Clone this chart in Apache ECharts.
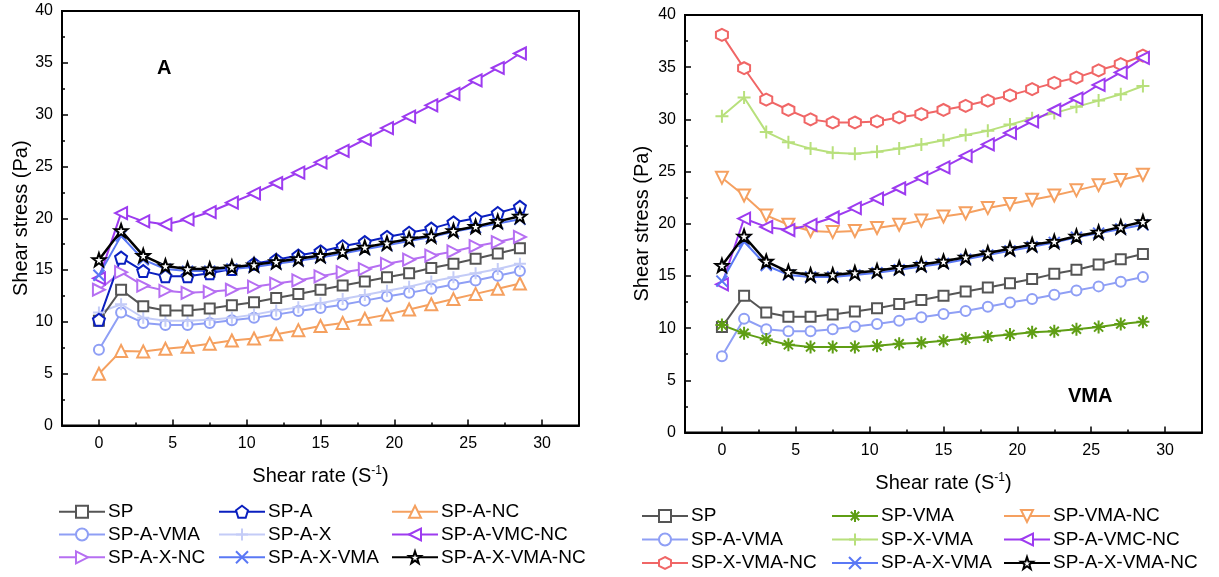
<!DOCTYPE html>
<html>
<head>
<meta charset="utf-8">
<script src="https://cdn.jsdelivr.net/npm/echarts@6/dist/echarts.min.js"></script>
<style>
html,body{margin:0;padding:0;background:#fff;}
#chart{width:1219px;height:577px;}
</style>
</head>
<body>
<div id="chart"></div>
<script>
// ---- Data ----
const shearRate = [0, 1.5, 3, 4.5, 6, 7.5, 9, 10.5, 12, 13.5, 15, 16.5, 18, 19.5, 21, 22.5, 24, 25.5, 27, 28.5];
const xTicks = [0, 5, 10, 15, 20, 25, 30];
const xMinorTicks = [2.5, 7.5, 12.5, 17.5, 22.5, 27.5];

const SP          = [10.1, 13.1, 11.5, 11.1, 11.1, 11.3, 11.6, 11.9, 12.3, 12.7, 13.1, 13.5, 13.9, 14.3, 14.7, 15.2, 15.6, 16.1, 16.6, 17.1];
const SP_A        = [10.2, 16.2, 14.9, 14.4, 14.4, 14.7, 15.1, 15.6, 16.0, 16.4, 16.8, 17.3, 17.7, 18.2, 18.6, 19.0, 19.6, 20.0, 20.5, 21.1];
const SP_A_NC     = [5.0, 7.2, 7.15, 7.4, 7.6, 7.9, 8.2, 8.4, 8.8, 9.2, 9.6, 9.9, 10.3, 10.7, 11.2, 11.7, 12.2, 12.7, 13.2, 13.7];
const SP_A_VMA    = [7.3, 10.9, 9.9, 9.7, 9.7, 9.9, 10.15, 10.4, 10.7, 11.05, 11.35, 11.65, 12.05, 12.45, 12.8, 13.2, 13.6, 14.0, 14.45, 14.9];
const SP_A_X      = [10.9, 11.7, 10.4, 10.1, 10.1, 10.2, 10.4, 10.7, 11.1, 11.4, 11.8, 12.2, 12.6, 13.0, 13.4, 13.9, 14.3, 14.7, 15.1, 15.6];
const SP_A_VMC_NC = [14.2, 20.5, 19.7, 19.4, 19.9, 20.6, 21.5, 22.4, 23.4, 24.4, 25.4, 26.5, 27.6, 28.7, 29.8, 30.9, 32.0, 33.3, 34.5, 35.9];
const SP_A_X_NC   = [13.1, 14.8, 13.5, 13.0, 12.8, 12.9, 13.1, 13.4, 13.7, 14.0, 14.4, 14.8, 15.1, 15.6, 16.0, 16.4, 16.8, 17.3, 17.7, 18.2];
const SP_A_X_VMA  = [14.5, 18.3, 16.0, 15.1, 14.9, 14.9, 15.1, 15.3, 15.6, 15.9, 16.2, 16.6, 17.0, 17.4, 17.8, 18.2, 18.7, 19.1, 19.5, 19.9];
const SP_A_X_VMA_NC = [16.0, 18.8, 16.4, 15.4, 15.1, 15.1, 15.3, 15.5, 15.8, 16.1, 16.4, 16.8, 17.2, 17.6, 18.0, 18.3, 18.8, 19.2, 19.7, 20.2];
const SP_VMA      = [10.3, 9.5, 8.9, 8.4, 8.2, 8.2, 8.2, 8.3, 8.5, 8.6, 8.8, 9.0, 9.2, 9.4, 9.6, 9.7, 9.9, 10.1, 10.4, 10.6];
const SP_X_VMA    = [30.3, 32.1, 28.8, 27.8, 27.2, 26.8, 26.7, 26.9, 27.2, 27.6, 28.0, 28.5, 28.9, 29.5, 30.1, 30.6, 31.2, 31.8, 32.4, 33.2];
const SP_X_VMA_NC = [38.1, 34.9, 31.9, 30.9, 30.0, 29.7, 29.7, 29.8, 30.2, 30.5, 30.9, 31.3, 31.8, 32.3, 32.9, 33.5, 34.0, 34.7, 35.3, 36.1];
const SP_VMA_NC   = [24.4, 22.7, 20.8, 19.9, 19.3, 19.2, 19.3, 19.6, 19.9, 20.3, 20.7, 21.0, 21.5, 21.9, 22.3, 22.7, 23.2, 23.7, 24.2, 24.7];

// legend layout: rows of three entries
const leftLegendRows = [
  ['SP', 'SP-A', 'SP-A-NC'],
  ['SP-A-VMA', 'SP-A-X', 'SP-A-VMC-NC'],
  ['SP-A-X-NC', 'SP-A-X-VMA', 'SP-A-X-VMA-NC']
];
const rightLegendRows = [
  ['SP', 'SP-VMA', 'SP-VMA-NC'],
  ['SP-A-VMA', 'SP-X-VMA', 'SP-A-VMC-NC'],
  ['SP-X-VMA-NC', 'SP-A-X-VMA', 'SP-A-X-VMA-NC']
];

// ---- Symbols ----
const SYM = {
  square: 'rect',
  circle: 'circle',
  pentagon: 'path://M50,0L97.6,34.5L79.4,90.5L20.6,90.5L2.4,34.5Z',
  hexagon: 'path://M50,0L93.3,25L93.3,75L50,100L6.7,75L6.7,25Z',
  triUp: 'path://M5,0L10,9L0,9Z',
  triDown: 'path://M0,0L10,0L5,9Z',
  triLeft: 'path://M0,5L9,0L9,10Z',
  triRight: 'path://M0,0L9,5L0,10Z',
  plus: 'path://M5,0L5,10M0,5L10,5',
  cross: 'path://M0,0L10,10M0,10L10,0',
  asterisk: 'path://M5,0L5,10M0,5L10,5M1.5,1.5L8.5,8.5M1.5,8.5L8.5,1.5',
  star: 'path://M50,0L61.76,33.82L97.55,34.55L69.02,56.18L79.39,90.45L50,70L20.61,90.45L30.98,56.18L2.45,34.55L38.24,33.82Z'
};

const styles = {
  'SP':            {c: '#555555', s: 'square', size: 10, hollow: true},
  'SP-A':          {c: '#0a1fbf', s: 'pentagon', size: 12, hollow: true},
  'SP-A-NC':       {c: '#f5a05f', s: 'triUp', size: 12, hollow: true},
  'SP-A-VMA':      {c: '#8f9ff5', s: 'circle', size: 10, hollow: true},
  'SP-A-X':        {c: '#c4ccf7', s: 'plus', size: 12, hollow: false},
  'SP-A-VMC-NC':   {c: '#9d3bf0', s: 'triLeft', size: 12, hollow: true},
  'SP-A-X-NC':     {c: '#b66ff2', s: 'triRight', size: 12, hollow: true},
  'SP-A-X-VMA':    {c: '#5a78f5', s: 'cross', size: 11, hollow: false},
  'SP-A-X-VMA-NC': {c: '#000000', s: 'star', size: 13, hollow: true},
  'SP-VMA':        {c: '#5f9e14', s: 'asterisk', size: 13, hollow: false},
  'SP-X-VMA':      {c: '#b8e07c', s: 'plus', size: 13, hollow: false},
  'SP-X-VMA-NC':   {c: '#f06666', s: 'hexagon', size: 12, hollow: true},
  'SP-VMA-NC':     {c: '#f5a060', s: 'triDown', size: 12, hollow: true}
};

function mkSeries(name, values, axisIdx) {
  const st = styles[name];
  return {
    name: name,
    type: 'line',
    xAxisIndex: axisIdx === 0 ? 0 : 2,
    yAxisIndex: axisIdx,
    data: shearRate.map((x, i) => [x, values[i]]),
    symbol: SYM[st.s],
    symbolSize: st.size,
    showAllSymbol: true,
    animation: false,
    lineStyle: {color: st.c, width: name === 'SP-A-X-VMA-NC' ? 2.5 : 2},
    itemStyle: {
      color: st.hollow ? '#ffffff' : st.c,
      borderColor: st.c,
      borderWidth: 2
    },
    emphasis: {disabled: true}
  };
}

const FONT = '"Liberation Sans", Arial, sans-serif';

function xMain(gridIndex) {
  return {
    type: 'value', gridIndex: gridIndex, min: -2.5, max: 32.5, position: 'bottom',
    name: '{a|Shear rate (S}{b|-1}{a|)}',
    nameLocation: 'middle', nameGap: 39,
    nameTextStyle: {
      fontFamily: FONT,
      rich: {
        a: {fontSize: 20, color: '#000', fontFamily: FONT, lineHeight: 24},
        b: {fontSize: 12, color: '#000', fontFamily: FONT, verticalAlign: 'top', lineHeight: 14}
      }
    },
    axisLine: {show: true, onZero: false, lineStyle: {color: '#000', width: 2}},
    axisTick: {show: true, inside: true, length: 6, lineStyle: {color: '#000', width: 1.5}, customValues: xTicks},
    axisLabel: {show: true, fontSize: 16, color: '#000', fontFamily: FONT, margin: 10, customValues: xTicks},
    splitLine: {show: false}
  };
}
function xMinor(gridIndex) {
  return {
    type: 'value', gridIndex: gridIndex, min: -2.5, max: 32.5, position: 'bottom',
    axisLine: {show: false, onZero: false},
    axisTick: {show: true, inside: true, length: 3, lineStyle: {color: '#000', width: 1.5}, customValues: xMinorTicks},
    axisLabel: {show: false},
    splitLine: {show: false}
  };
}
function yMain(gridIndex, gap) {
  return {
    type: 'value', gridIndex: gridIndex, min: 0, max: 40, interval: 5,
    name: 'Shear stress (Pa)', nameLocation: 'middle', nameGap: gap, nameRotate: 90,
    nameTextStyle: {fontSize: 20, color: '#000', fontFamily: FONT},
    axisLine: {show: true, onZero: false, lineStyle: {color: '#000', width: 2}},
    axisTick: {show: true, inside: true, length: 6, lineStyle: {color: '#000', width: 1.5}},
    minorTick: {show: true, splitNumber: 2, length: 3, lineStyle: {color: '#000', width: 1.5}},
    axisLabel: {fontSize: 16, color: '#000', fontFamily: FONT, margin: 9},
    splitLine: {show: false}
  };
}

// one legend component per entry, placed on a 3x3 table
function legends(rows, colLefts, rowCenters) {
  const out = [];
  rows.forEach((row, r) => {
    row.forEach((name, c) => {
      out.push({
        orient: 'horizontal', left: colLefts[c], top: rowCenters[r] - 10, data: [name],
        padding: 0, itemWidth: 46, itemHeight: 15, itemGap: 0,
        selectedMode: false,
        textStyle: {fontSize: 19, color: '#000', fontFamily: FONT, lineHeight: 20, padding: [0, 0, 0, -2]}
      });
    });
  });
  return out;
}

const leftSeries = [
  ['SP-A-NC', SP_A_NC], ['SP-A-VMA', SP_A_VMA], ['SP-A-X', SP_A_X], ['SP', SP],
  ['SP-A-X-NC', SP_A_X_NC], ['SP-A', SP_A], ['SP-A-VMC-NC', SP_A_VMC_NC],
  ['SP-A-X-VMA', SP_A_X_VMA], ['SP-A-X-VMA-NC', SP_A_X_VMA_NC]
].map(p => mkSeries(p[0], p[1], 0));

const rightSeries = [
  ['SP', SP], ['SP-A-VMA', SP_A_VMA], ['SP-VMA', SP_VMA], ['SP-VMA-NC', SP_VMA_NC],
  ['SP-X-VMA', SP_X_VMA], ['SP-X-VMA-NC', SP_X_VMA_NC], ['SP-A-VMC-NC', SP_A_VMC_NC],
  ['SP-A-X-VMA', SP_A_X_VMA], ['SP-A-X-VMA-NC', SP_A_X_VMA_NC]
].map(p => mkSeries(p[0], p[1], 1));

const chart = echarts.init(document.getElementById('chart'), null, {renderer: 'canvas'});
chart.setOption({
  animation: false,
  backgroundColor: '#fff',
  grid: [
    {left: 62, top: 11, width: 517, height: 414.5, show: true, borderColor: '#000', borderWidth: 2, backgroundColor: 'transparent'},
    {left: 685, top: 15, width: 517, height: 417.5, show: true, borderColor: '#000', borderWidth: 2, backgroundColor: 'transparent'}
  ],
  xAxis: [xMain(0), xMinor(0), xMain(1), xMinor(1)],
  yAxis: [yMain(0, 31), yMain(1, 33)],
  legend: legends(leftLegendRows, [58, 218, 391], [511.7, 534.5, 557.3])
    .concat(legends(rightLegendRows, [641, 831, 1003], [516, 539.5, 563])),
  graphic: [
    {type: 'text', left: 157, top: 58, style: {text: 'A', fontSize: 20, fontWeight: 'bold', fill: '#000', fontFamily: FONT}},
    {type: 'text', left: 1068, top: 386, style: {text: 'VMA', fontSize: 20, fontWeight: 'bold', fill: '#000', fontFamily: FONT}}
  ],
  series: leftSeries.concat(rightSeries)
});
</script>
</body>
</html>
